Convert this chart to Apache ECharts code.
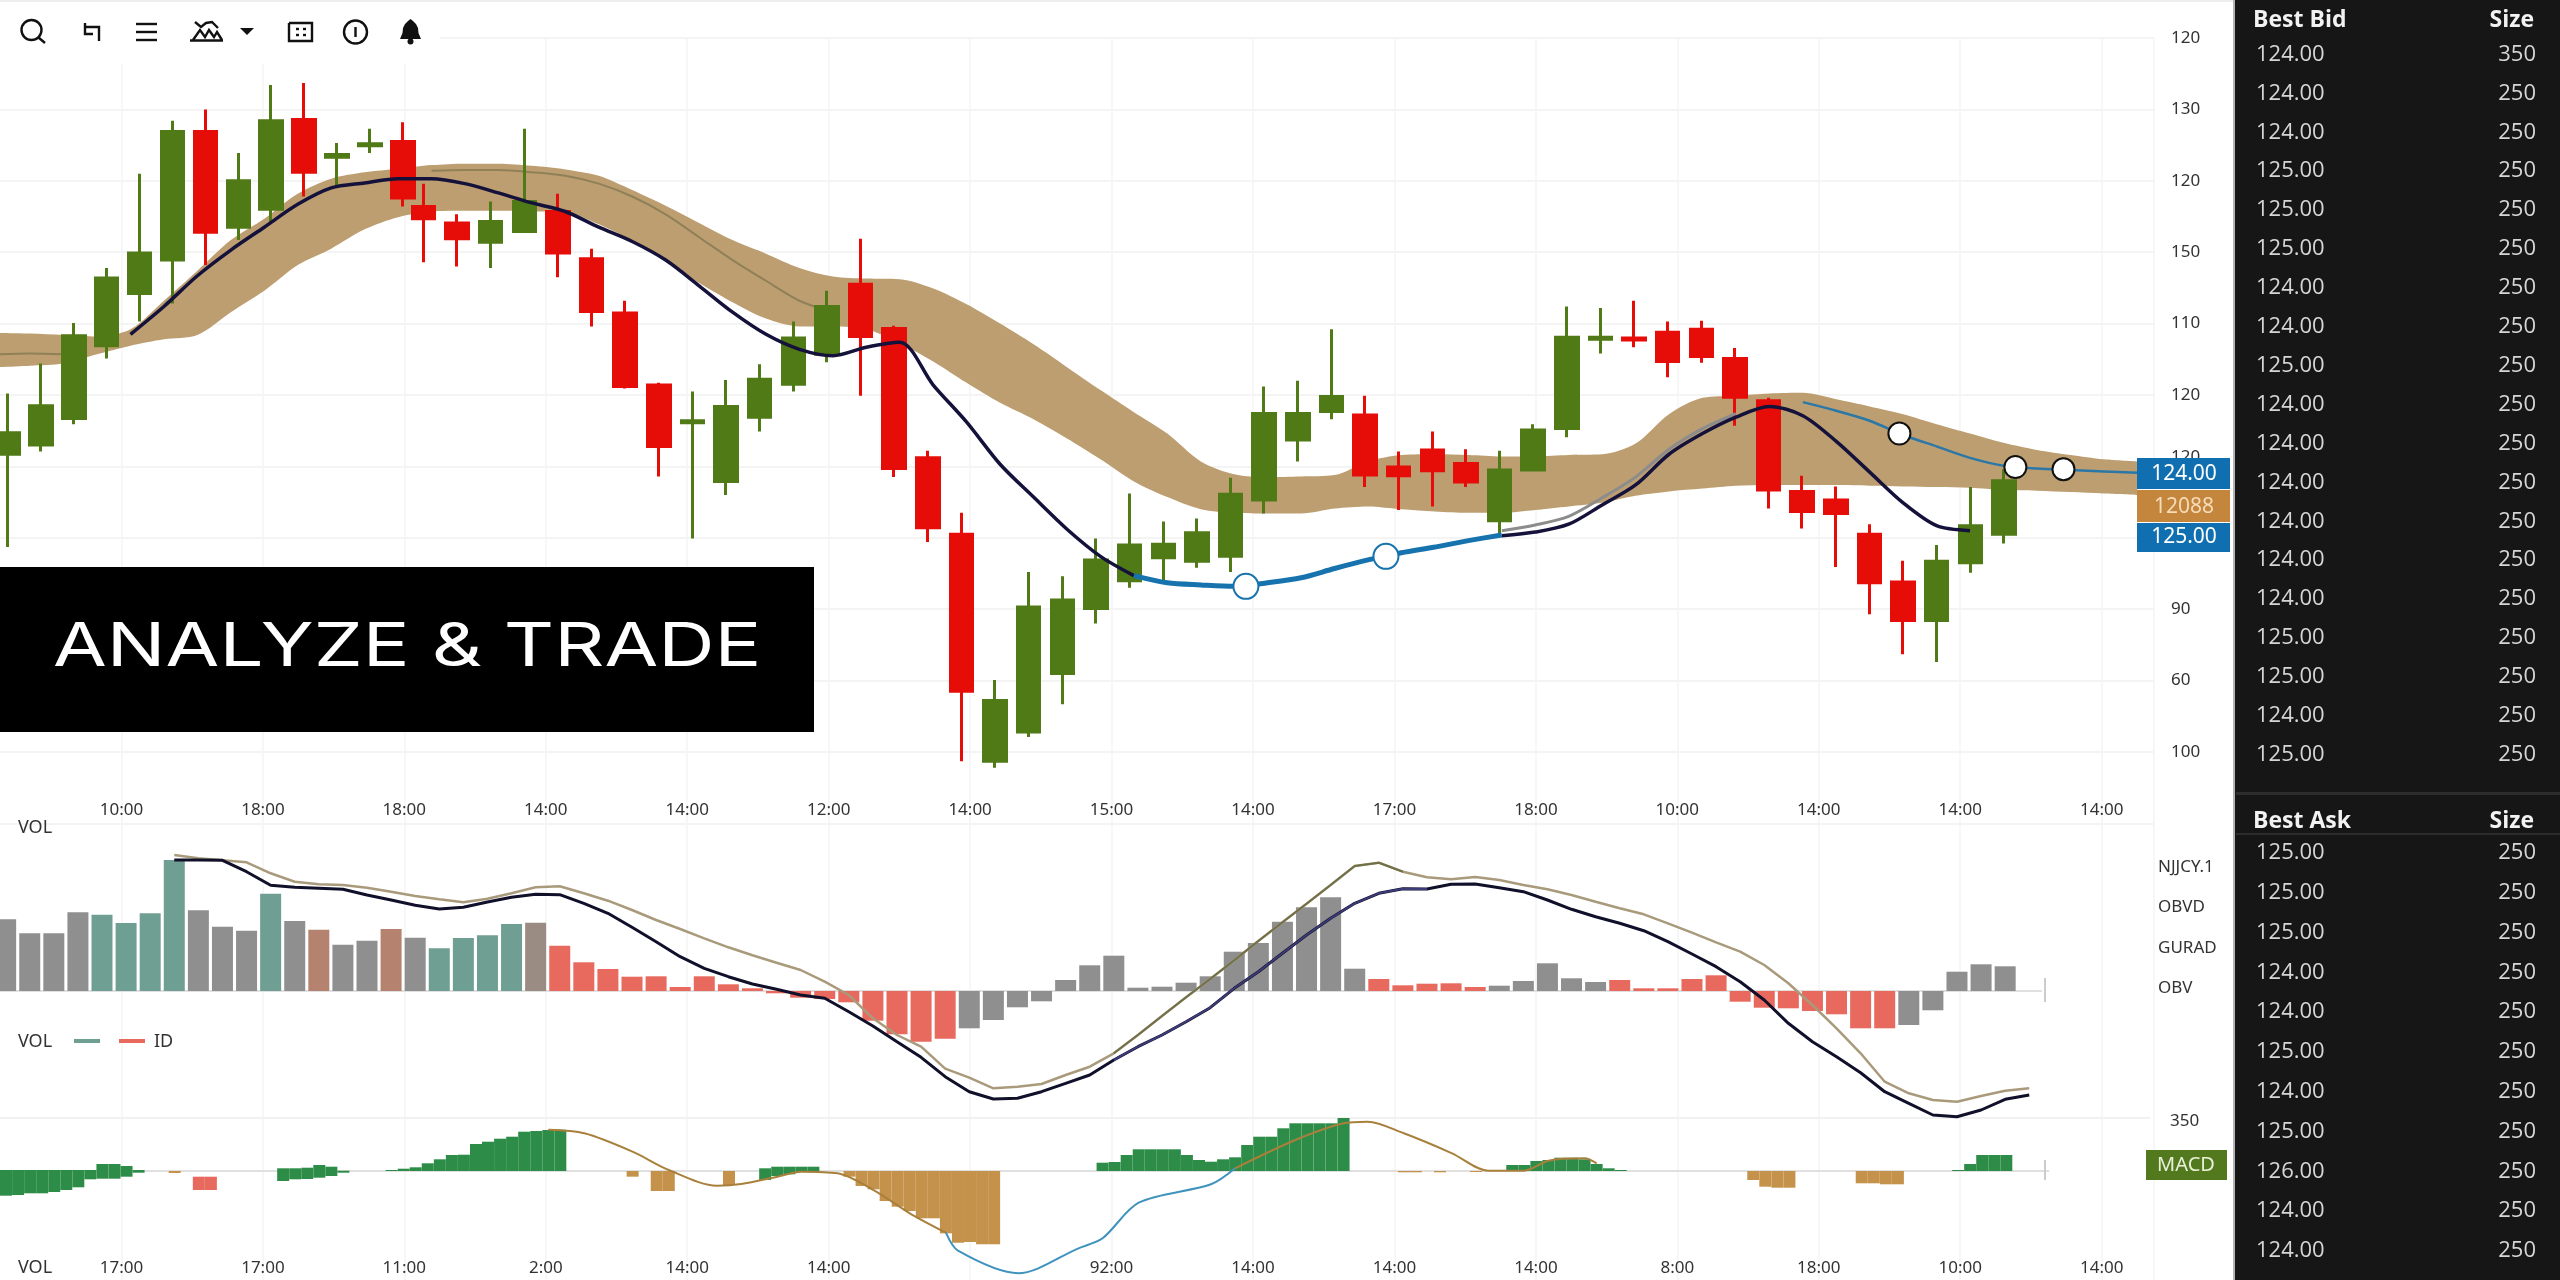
<!DOCTYPE html>
<html>
<head>
<meta charset="utf-8">
<title>Analyze & Trade</title>
<script src="https://cdn.jsdelivr.net/npm/echarts@6/dist/echarts.min.js"></script>
<style>
html,body{margin:0;padding:0;background:#fff;}
#chart{width:2560px;height:1280px;}
</style>
</head>
<body>
<div id="chart"></div>
<script>
// candles (scale is the evenly spaced price grid, labels come from yTickLabels)
const candleOpen = [41.7,43.0,46.7,56.9,64.2,68.9,86.9,73.5,76.0,88.6,83.3,84.9,85.5,76.4,74.1,71.4,72.9,75.7,69.1,61.5,51.4,46.1,37.9,46.9,51.5,55.7,65.5,59.3,41.2,30.5,-1.3,2.8,11.0,20.1,24.0,27.2,26.7,27.4,35.3,43.7,47.7,47.2,39.9,42.3,40.4,32.4,39.5,45.3,57.8,58.0,58.8,59.2,55.1,49.2,36.5,35.3,30.5,23.8,18.4,26.5,30.5];
const candleClose = [44.7,48.5,58.3,66.4,69.9,86.9,72.8,80.0,88.4,81.2,83.7,85.2,77.6,74.7,71.9,74.3,77.1,69.9,61.7,51.2,42.8,46.4,48.4,52.2,58.0,62.4,58.2,39.7,31.4,8.5,7.2,20.3,21.3,26.9,29.0,29.1,30.7,36.1,47.4,47.4,49.8,38.8,38.7,39.4,37.8,39.5,45.1,58.1,58.1,57.7,54.7,55.4,49.7,36.7,33.7,33.4,23.7,18.4,26.7,31.7,38.0];
const candleLow = [28.7,42.1,45.9,55.1,60.3,62.8,68.2,71.7,74.1,77.8,79.2,83.9,76.4,68.6,68.0,67.8,72.7,66.5,59.6,50.9,38.6,29.9,36.0,44.9,50.5,54.6,49.9,38.5,29.4,-1.3,-2.2,2.1,6.7,18.0,23.0,24.0,25.8,25.2,33.4,40.7,46.6,37.1,33.9,34.4,37.1,30.4,39.5,44.1,55.8,56.7,52.5,54.5,45.7,34.1,31.3,25.9,19.3,13.7,12.6,25.1,29.2];
const candleHigh = [50.2,54.4,60.1,67.8,81.0,88.4,90.0,83.9,93.4,93.7,85.3,87.3,88.2,79.6,75.3,77.1,87.3,78.2,70.5,63.2,51.7,50.5,52.1,54.3,60.3,64.6,71.9,59.7,42.2,33.5,10.1,25.2,24.6,29.9,36.2,32.3,32.7,38.4,51.2,52.0,59.2,49.9,42.1,44.9,42.4,42.2,45.9,62.4,62.2,63.2,60.3,60.4,56.6,49.6,38.7,37.2,31.9,26.8,29.0,37.1,39.6];

// tan band
const bandUpper = [58.7,58.6,58.4,58.2,59.2,63.2,67.4,71.7,74.7,78.2,80.3,81.2,81.7,82.2,82.4,82.4,82.1,81.6,80.7,78.7,76.5,74.1,71.7,69.8,67.8,66.6,66.3,66.2,64.9,62.7,60.0,57.1,53.9,50.7,47.6,44.6,40.7,38.9,38.5,38.6,38.8,40.7,41.6,41.7,41.6,41.4,41.4,41.6,41.7,43.2,47.3,49.6,49.9,50.2,50.3,49.4,48.4,47.3,45.9,44.6,43.3,42.3,41.6,41.0,40.7];
const bandLower = [53.9,54.1,54.4,55.7,56.9,57.8,58.4,61.6,64.6,68.2,70.5,73.2,74.9,75.7,75.8,75.8,75.7,75.6,73.9,71.6,68.7,65.7,63.0,60.7,59.6,59.6,59.2,57.3,54.7,51.7,48.9,46.6,43.9,41.0,37.9,35.7,34.0,33.5,33.4,33.4,34.1,34.4,34.0,33.7,33.5,33.5,33.9,34.4,34.9,35.9,36.5,36.9,37.3,37.4,37.4,37.4,37.3,37.2,37.1,37.0,36.7,36.6,36.4,36.2,36.0];
const bandInnerLeft = [55.7,55.8,55.7];
const bandInner = [81.4,81.5,81.5,81.2,80.7,79.6,77.8,75.3,72.1,68.9,66.0,63.2,61.6];

// lines over the candles
const blackLineA = [58.5,62.4,66.7,70.3,73.5,76.7,79.0,79.7,80.3,80.3,79.6,78.3,76.9,75.7,73.5,71.5,68.9,65.3,61.6,58.5,56.4,55.5,56.7,57.4,51.4,46.2,40.3,35.7,31.2,27.4,24.7];
const blueThick = [24.7,23.7,23.4,23.2,23.7,24.4,25.7,26.9,27.9,28.7,29.6,30.4];
const blackLineB = [30.3,30.8,31.9,34.6,37.4,41.7,44.6,46.9,48.4,47.1,43.5,39.2,34.9,31.7,31.0];
const greyLine = [31.0,31.8,33.0,35.6,38.5,42.4,45.3,47.4];
const blueThin = [49.0,47.8,46.4,44.4,42.8,41.2,40.1,39.7,39.5,39.3,39.1];
const openDots = [[8.95,23.2],[9.94,27.4]];
const whiteDots = [[13.57,44.6],[14.39,39.9],[14.73,39.6]];

// tick labels
const yTickLabels = ['','100','60','90','','120','120','110','150','120','130','120'];
const xLabelsMain = ['','10:00','18:00','18:00','14:00','14:00','12:00','14:00','15:00','14:00','17:00','18:00','10:00','14:00','14:00','14:00'];
const xLabelsLower = ['','17:00','17:00','11:00','2:00','14:00','14:00','','92:00','14:00','14:00','14:00','8:00','18:00','10:00','14:00'];

// volume panel
const volValues = [71.7,57.7,57.7,78.7,76.3,68,77.7,131,80.7,64.3,60.3,97.3,70,61.3,46.3,50.3,62,53.3,42.7,53,55.7,67,68.3,45.3,28.7,22,14.3,14.7,4,14.7,6.7,2.7,-2.3,-6.7,-8,-11.3,-29.7,-43.3,-50.7,-47.7,-37.3,-29,-16.3,-10.3,11,25.7,35.3,3.3,4.3,8.3,14.7,39.3,48,69.3,83.7,93.7,22.3,12,5.7,7.3,7.7,4,5.3,10,27.7,12.7,9,11,2.7,2.7,12,15.7,-10.7,-16.7,-17.3,-20,-23.3,-37.3,-37.3,-34,-19.3,19.3,26.7,24.7];
const volKinds = 'ggggttttgggtgbggbgttttmrrrrrrrrrrrrrrrrrgggggggggggggggggrrrrrgggggrrrrrrrrrrrrggggg'.split('');
const volTanLine = [136,132.7,130.7,128.7,117.7,109.3,106.7,106,103.3,99.3,95,91.7,88.7,92.3,97.7,103.7,104.7,97.7,90.3,81,71,62,52.7,43.7,35.7,28.3,21,9.3,-4,-27.3,-44,-55.7,-77.7,-86.7,-97.3,-95.7,-93,-84,-75.7,-62.3,-44,-25,-6.3,12,30.7,50,68.7,87.3,106,125,128.3,119.3,113.7,111.7,114,111,106,101.7,96,89.3,82.7,76.7,67.7,58.3,48.7,39.3,26,7.7,-14,-37.3,-62.3,-90.7,-102.3,-109,-110.7,-105,-99.7,-97.3];
const volBlackLine = [131,131,130.7,119.3,105.7,103.7,102.7,101.7,96,91,85.7,82,83.7,89,93.7,96.7,96.3,87.7,77.7,63.7,49.3,34.3,22.7,14.3,7,1.7,-4,-7.3,-20.7,-35,-50.7,-66.3,-85.7,-100.7,-108,-107.3,-100.7,-92.3,-84,-69,-55.7,-44,-30.7,-16.7,2.7,19.3,37.7,56,72.7,87.7,97.7,102.3,102,106.7,107,103.3,99.3,91,81.7,74.3,67.7,60.3,49.3,37,24.3,9.3,-9,-32.3,-50.7,-65.7,-81.7,-100.7,-112.3,-124,-125.7,-119,-108.3,-104];

// macd panel, runs of bars as [first slot, values]
const macdGreenUp = [[0,[1,1,1,1,1,1,1,1,7,7,5,1]],[23,[2.7,2.7,3.3,6,4.3,0.3]],[32,[1,2.3,3.7,7.7,11.7,16,16.3,27,29.3,32.3,34.3,39.3,40,41,41.3]],[63,[2.7,4.3,4.3,4.3,4.3]],[91,[8.3,9,16,21.7,21.7,21.7,21.7,16,11,9.3,11.7,13.7,26,34.3,34.3,42.7,47.7,47.7,47.7,47.7,53]],[125,[6,6,10,11,13.3,13.3,11.7,7,2.7,1]],[162,[1,7,16,16,16]]];
const macdGreenDown = [[0,[-24.7,-24,-22.3,-22.3,-21,-19,-16.3,-8.3,-7.7,-7.7,-5.7,-1.7]],[23,[-10,-8.3,-8,-6.7,-5,-1.7]],[63,[-9,-5,-3.3,-1,-0.7]]];
const macdOrange = [[14,[-2]],[52,[-5.7]],[54,[-20,-20]],[60,[-14]],[70,[-5.7,-15,-18.3,-30,-35.7,-40,-47.3,-47.3,-62.3,-71.7,-71,-73.3,-73.3]],[116,[-1.3,-1.3]],[119,[-1.3]],[122,[-1]],[145,[-9,-15.7,-16.7,-16.7]],[154,[-12.3,-12.3,-13.3,-13.3]]];
const macdRedGap = [[16,[-5.7,-5.7]]];
const macdRed = [[16,[-13.3,-13.3]]];
const macdTanA = [[45,41.3],[48,37.7],[52,19.3],[55,1],[59,-14.7],[61,-13],[64,-5.7],[66,-0.7],[69,-2.3],[72,-19],[75,-42.3],[78,-61.7]];
const macdBlue = [[78,-61.7],[79,-79.7],[84,-102.3],[89,-77.3],[91,-67.3],[94,-31.7],[100,-13.3],[102,2.7]];
const macdTanB = [[102,2.7],[107,31],[111,47.7],[113,49.3],[116,37.7],[120,17.7],[123,0.3],[126,0.3],[128,10.3],[131,12.7],[132,7.7]];

// order book
const bidPrices = ['124.00','124.00','124.00','125.00','125.00','125.00','124.00','124.00','125.00','124.00','124.00','124.00','124.00','124.00','124.00','125.00','125.00','124.00','125.00'];
const bidSizes = ['350','250','250','250','250','250','250','250','250','250','250','250','250','250','250','250','250','250','250'];
const askPrices = ['125.00','125.00','125.00','124.00','124.00','125.00','124.00','125.00','126.00','124.00','124.00'];
const askSizes = ['250','250','250','250','250','250','250','250','250','250','250'];
const sideLabels = ['NJJCY.1','OBVD','GURAD','OBV'];

const SLOTS_MAIN = 65, SLOTS_VOL = 85, SLOTS_MACD = 170;
const CANDLE_SPLIT = 13;
const FONT = '"Noto Sans", sans-serif';
const COL_UP = '#507a16', COL_DOWN = '#e60c08', COL_BAND = '#bd9e70';
const volColor = {g:'#8f8f8f', t:'#6f9f92', b:'#b5826f', m:'#9a8c82', r:'#e8695d'};

function pad(len, start, vals) {
    const out = new Array(len).fill(null);
    vals.forEach((v, i) => { out[start + i] = v; });
    return out;
}
function runs(len, list) {
    const out = new Array(len).fill(null);
    list.forEach(r => r[1].forEach((v, i) => { out[r[0] + i] = v; }));
    return out;
}
function slots(n) {
    return Array.from({length: n}, (_, i) => String(i));
}

const candleData = candleOpen.map((o, i) => [o, candleClose[i], candleLow[i], candleHigh[i]]);
const bandDiff = bandUpper.map((u, i) => +(u - bandLower[i]).toFixed(1));
const volTan = pad(SLOTS_VOL, 7, volTanLine);
const volBlack = pad(SLOTS_VOL, 7, volBlackLine);
const innerLine = pad(SLOTS_MAIN, 13, bandInner);
bandInnerLeft.forEach((v, i) => { innerLine[i] = v; });

// tool bar, panel and the other fixed parts
const elements = [];
function text(str, x, y, font, fill, align, z, scaleX) {
    elements.push({type:'text', silent:true, z:z || 30, x:x, y:y, scaleX:scaleX || 1, style:{text:str, font:font, fill:fill, textAlign:align || 'left', textVerticalAlign:'middle'}});
}
function box(x, y, w, h, fill, z) {
    elements.push({type:'rect', silent:true, z:z || 20, shape:{x:x, y:y, width:w, height:h}, style:{fill:fill}});
}
const ICON_STROKE = {fill:null, stroke:'#111', lineWidth:2.4};
function stroke(points) {
    elements.push({type:'polyline', silent:true, z:30, shape:{points:points}, style:ICON_STROKE});
}
function ring(cx, cy, r) {
    elements.push({type:'circle', silent:true, z:30, shape:{cx:cx, cy:cy, r:r}, style:ICON_STROKE});
}
function solid(points) {
    elements.push({type:'polygon', silent:true, z:30, shape:{points:points}, style:{fill:'#111'}});
}

box(0, 0, 2235, 2, '#eeeeee', 5);
box(0, 4, 440, 60, '#ffffff', 5);
ring(31.5, 30, 10);
stroke([[38.5,37.5],[45,43]]);
stroke([[85,23],[85,34],[93,34]]);
stroke([[85,27],[99,27],[99,41]]);
stroke([[136,24],[157,24]]);
stroke([[136,32],[157,32]]);
stroke([[136,40],[157,40]]);
stroke([[190,40.5],[223,40.5]]);
stroke([[193,40],[200,30],[205,37],[209,30],[214,37],[217,32],[222,40]]);
stroke([[195,22],[201,27],[206,23],[212,22],[218,28]]);
solid([[240,28],[254,28],[247,35]]);
stroke([[289,23],[312,23],[312,41],[289,41],[289,23]]);
stroke([[296,29],[299,29]]);
stroke([[303,29],[306,29]]);
stroke([[296,35],[299,35]]);
stroke([[303,35],[306,35]]);
ring(355.5, 32, 11.5);
stroke([[355.5,27],[355.5,37]]);
solid([[410.5,19],[413,21],[416,24],[418,28],[418.5,33],[421,39],[400,39],[402.5,33],[403,28],[405,24],[408,21]]);
elements.push({type:'circle', silent:true, z:30, shape:{cx:410.5, cy:41.5, r:3}, style:{fill:'#111'}});

// banner
box(0, 567, 814, 165, '#000000', 20);
text('ANALYZE & TRADE', 53, 648, '400 60px Inter, sans-serif', '#ffffff', 'left', 30, 1.3);

// price tags
box(2137, 458, 93, 31, '#0f6fb0', 20);
box(2137, 490, 93, 32, '#c4853c', 20);
box(2137, 523, 93, 29, '#0f6fb0', 20);
text('124.00', 2184, 474, '21px ' + FONT, '#ffffff', 'center');
text('12088', 2184, 507, '21px ' + FONT, '#f5dcb8', 'center');
text('125.00', 2184, 537, '21px ' + FONT, '#ffffff', 'center');
box(2146, 1150, 81, 30, '#53791f', 20);
text('MACD', 2186, 1165, '20px ' + FONT, '#e8f0d8', 'center');

// panel captions
text('VOL', 18, 828, '18px ' + FONT, '#333');
text('VOL', 18, 1042, '18px ' + FONT, '#333');
box(74, 1039, 26, 4, '#6f9f92', 20);
box(119, 1039, 26, 4, '#e8695d', 20);
text('ID', 154, 1042, '18px ' + FONT, '#333');
text('VOL', 18, 1268, '18px ' + FONT, '#333');
sideLabels.forEach((s, i) => text(s, 2158, 867 + i * 40.5, '17px ' + FONT, '#333'));
text('350', 2170, 1121, '17px ' + FONT, '#333');
box(0, 1117, 2150, 2, '#f1f1f1', 1);
box(2044, 978, 2, 24, '#cccccc', 3);
box(2044, 1160, 2, 20, '#cccccc', 3);

// order book panel
box(2233, 0, 2, 1280, '#b5b5b5', 40);
box(2235, 0, 325, 1280, '#161616', 40);
box(2236, 792, 324, 3, '#2c2c2c', 41);
box(2236, 833, 324, 2, '#2c2c2c', 41);
const HEAD = '700 23px "Open Sans", sans-serif', ROW = '22px "Open Sans", sans-serif';
text('Best Bid', 2253, 20, HEAD, '#f2f2f2', 'left', 42);
text('Size', 2534, 20, HEAD, '#f2f2f2', 'right', 42);
text('Best Ask', 2253, 821, HEAD, '#f2f2f2', 'left', 42);
text('Size', 2534, 821, HEAD, '#f2f2f2', 'right', 42);
bidPrices.forEach((p, i) => {
    text(p, 2256, 54.5 + i * 38.9, ROW, '#d6d6d6', 'left', 42);
    text(bidSizes[i], 2536, 54.5 + i * 38.9, ROW, '#d6d6d6', 'right', 42);
});
askPrices.forEach((p, i) => {
    text(p, 2256, 853 + i * 39.8, ROW, '#d6d6d6', 'left', 42);
    text(askSizes[i], 2536, 853 + i * 39.8, ROW, '#d6d6d6', 'right', 42);
});

const labelAxis = (gridIndex, labels, margin) => ({
    type:'value', gridIndex:gridIndex, min:0, max:15.37, interval:1, position:'bottom',
    axisLine:{show:false}, axisTick:{show:false},
    splitLine:{show:true, lineStyle:{color:'#f4f4f4', width:1.5}},
    axisLabel:{show:true, inside:true, margin:margin, color:'#333', fontSize:17, fontFamily:FONT,
        showMinLabel:true, showMaxLabel:true, hideOverlap:false,
        formatter: v => labels[v] || ''}
});
const hiddenCat = (gridIndex, n, zeroLine) => ({
    type:'category', gridIndex:gridIndex, data:slots(n), boundaryGap:true,
    axisTick:{show:false}, axisLabel:{show:false}, splitLine:{show:false},
    axisLine: zeroLine ? {show:true, onZero:true, lineStyle:{color:'#e0e0e0', width:2}} : {show:false}
});
const hiddenVal = (gridIndex, min, max) => ({
    type:'value', gridIndex:gridIndex, min:min, max:max,
    axisLine:{show:false}, axisTick:{show:false}, axisLabel:{show:false}, splitLine:{show:false}
});
const lineSeries = (x, y, data, color, width, smooth) => ({
    type:'line', xAxisIndex:x, yAxisIndex:y, z:4, data:data, showSymbol:false, symbol:'none', smooth:smooth === undefined ? 0.3 : smooth,
    connectNulls:false, lineStyle:{color:color, width:width}, itemStyle:{color:color}, silent:true
});
const macdBars = (data, color, stack) => ({
    type:'bar', xAxisIndex:3, yAxisIndex:2, z:2, data:data, barWidth:12, barGap:'-100%', stack:stack, silent:true,
    itemStyle:{color:color}
});
const candleSeries = (axis, data) => ({
    type:'candlestick', xAxisIndex:axis, yAxisIndex:axis - 1, z:3, data:data, barWidth:23, silent:true,
    itemStyle:{color:COL_UP, color0:COL_DOWN, borderColor:COL_UP, borderColor0:COL_DOWN, borderWidth:3}
});

const option = {
    animation:false,
    backgroundColor:'#ffffff',
    tooltip:{show:false},
    grid:[
        {left:-20, width:2174, top:38, height:785.4, containLabel:false, outerBoundsMode:'none'},
        {left:-6.4, width:2047.7, top:840, height:280, containLabel:false, outerBoundsMode:'none'},
        {left:0, width:2048.5, top:1110, height:170, containLabel:false, outerBoundsMode:'none'},
        {left:-20, width:2174, top:823.4, height:456.6, containLabel:false, outerBoundsMode:'none'},
        // the candles are spaced a little differently left and right of the 13th
        {left:-8.45, width:427.7, top:38, height:785.4, containLabel:false, outerBoundsMode:'none'},
        {left:406.6, width:1614.2, top:38, height:785.4, containLabel:false, outerBoundsMode:'none'}
    ],
    xAxis:[
        hiddenCat(0, SLOTS_MAIN, false),
        labelAxis(0, xLabelsMain, 5),
        hiddenCat(1, SLOTS_VOL, true),
        hiddenCat(2, SLOTS_MACD, true),
        labelAxis(3, xLabelsLower, 3),
        hiddenCat(4, CANDLE_SPLIT, false),
        hiddenCat(5, candleData.length - CANDLE_SPLIT, false)
    ],
    yAxis:[
        {type:'value', gridIndex:0, position:'right', min:-10, max:100, interval:10,
            axisLine:{show:false}, axisTick:{show:false},
            splitLine:{show:true, lineStyle:{color:'#f1f1f1', width:1.5}},
            axisLabel:{margin:17, color:'#333', fontSize:17, fontFamily:FONT, align:'left',
                formatter: v => {
                    const s = yTickLabels[Math.round(v / 10) + 1] || '';
                    return v === 40 ? '{up|' + s + '}' : s;
                },
                rich:{up:{padding:[0,0,18,0], color:'#333', fontSize:17, fontFamily:FONT}}}},
        hiddenVal(1, -129, 151),
        hiddenVal(2, -109, 61),
        hiddenVal(3, 0, 1),
        hiddenVal(4, -10, 100),
        hiddenVal(5, -10, 100)
    ],
    graphic:{elements:elements},
    series:[
        // band as a stacked area, under the candles
        {type:'line', xAxisIndex:0, yAxisIndex:0, z:1, stack:'band', data:bandLower, symbol:'none', smooth:0.3, silent:true, lineStyle:{width:0}, areaStyle:{opacity:0}},
        {type:'line', xAxisIndex:0, yAxisIndex:0, z:1, stack:'band', data:bandDiff, symbol:'none', smooth:0.3, silent:true, lineStyle:{width:0}, areaStyle:{color:COL_BAND, opacity:1}},
        Object.assign(lineSeries(0, 0, innerLine, '#8f8058', 2), {z:1}),
        candleSeries(5, candleData.slice(0, CANDLE_SPLIT)),
        candleSeries(6, candleData.slice(CANDLE_SPLIT)),
        lineSeries(0, 0, pad(SLOTS_MAIN, 45, greyLine), '#8c8c8c', 3),
        lineSeries(0, 0, pad(SLOTS_MAIN, 4, blackLineA), '#14123a', 3.5),
        lineSeries(0, 0, pad(SLOTS_MAIN, 45, blackLineB), '#14123a', 3.5),
        lineSeries(0, 0, pad(SLOTS_MAIN, 34, blueThick), '#1673ad', 5),
        lineSeries(0, 0, pad(SLOTS_MAIN, 54, blueThin), '#2b78a8', 2.5),
        {type:'scatter', xAxisIndex:1, yAxisIndex:0, data:openDots, symbolSize:25, silent:true, itemStyle:{color:'#ffffff', opacity:1, borderColor:'#1673ad', borderWidth:2}, z:5},
        {type:'scatter', xAxisIndex:1, yAxisIndex:0, data:whiteDots, symbolSize:22, silent:true, itemStyle:{color:'#ffffff', opacity:1, borderColor:'#111111', borderWidth:2}, z:5},

        {type:'bar', xAxisIndex:2, yAxisIndex:1, z:2, barWidth:21, silent:true,
            data:volValues.map((v, i) => ({value:v, itemStyle:{color:volColor[volKinds[i]]}}))},
        lineSeries(2, 1, volTan, '#a99a7c', 2.5, false),
        lineSeries(2, 1, volBlack, '#10102a', 3, false),
        lineSeries(2, 1, volTan.map((v, i) => i >= 46 && i <= 58 ? v : null), '#6f7048', 2, false),
        lineSeries(2, 1, volBlack.map((v, i) => i >= 46 && i <= 59 ? v : null), '#3d3b78', 2, false),

        macdBars(runs(SLOTS_MACD, macdGreenUp), '#2e8c49'),
        macdBars(runs(SLOTS_MACD, macdGreenDown), '#2e8c49'),
        macdBars(runs(SLOTS_MACD, macdOrange), '#c4924a'),
        macdBars(runs(SLOTS_MACD, macdRedGap), 'rgba(0,0,0,0)', 'floating'),
        macdBars(runs(SLOTS_MACD, macdRed), '#e8695d', 'floating'),
        lineSeries(3, 2, macdTanA, '#a8803c', 2, 0.3),
        lineSeries(3, 2, macdBlue, '#3f93bd', 2, 0.3),
        lineSeries(3, 2, macdTanB, '#a8803c', 2, 0.3)
    ]
};

const myChart = echarts.init(document.getElementById('chart'));
myChart.setOption(option);
</script>
</body>
</html>
